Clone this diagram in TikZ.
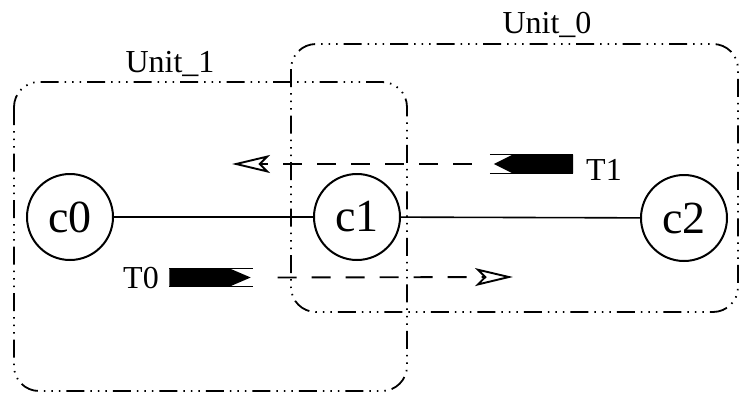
\documentclass[tikz,border=0pt]{standalone}
\usepackage{fontspec}
\setmainfont{Liberation Serif}
\usetikzlibrary{arrows.meta}
\begin{document}
\begin{tikzpicture}[x=1pt,y=-1pt,
  cnode/.style={draw,circle,line width=2pt,minimum size=86pt,inner sep=0pt,font=\fontsize{46}{46}\selectfont},
  unitbox/.style={line width=1.8pt,rounded corners=25pt,
    dash pattern=on 18pt off 6pt on 1.5pt off 6pt on 1.5pt off 6pt on 1.5pt off 6pt},
  lbl/.style={font=\fontsize{32}{32}\selectfont,inner sep=0pt,anchor=base},
  link/.style={line width=1.6pt},
  token/.style={rectangle,inner sep=0pt,minimum width=83pt,minimum height=18.5pt},
  msg/.style={line width=1.9pt,dash pattern=on 19pt off 15pt,
    -{Stealth[open,length=38pt,width=18pt,inset=9pt,line width=1.9pt]}},
]
\useasboundingbox (0,0) rectangle (740,394);
% unit boxes
\draw[unitbox] (14,82) rectangle (407,391);
\draw[unitbox] (291,44) rectangle (738,312);
\node[lbl] (u1) at (170,72) {Unit\_1};
\node[lbl] (u0) at (547,33) {Unit\_0};
% cells
\node[cnode] (c0) at (70,217) {c0};
\node[cnode] (c1) at (357,217) {c1};
\node[cnode] (c2) at (684,218) {c2};
\draw[link] (c0) -- (c1);
\draw[link] (c1) -- (c2);
% token T1
\node[token] (t1) at (531.5,164) {};
\draw[line width=1pt] (t1.north west) -- (t1.north east) (t1.south west) -- (t1.south east);
\fill ([xshift=4pt]t1.west) -- ([xshift=23pt]t1.north west) -- (t1.north east)
  -- (t1.south east) -- ([xshift=23pt]t1.south west) -- cycle;
\node[lbl] (t1l) at (604,180) {T1};
\coordinate (t1end) at (232,164);
\draw[msg] ([xshift=-18pt]t1.west) -- (t1end);
% token T0
\node[token] (t0) at (211,277.5) {};
\draw[line width=1pt] (t0.north west) -- (t0.north east) (t0.south west) -- (t0.south east);
\fill (t0.north west) -- ([xshift=-24pt]t0.north east) -- ([xshift=-2pt]t0.east)
  -- ([xshift=-24pt]t0.south east) -- (t0.south west) -- cycle;
\node[lbl] (t0l) at (141,288) {T0};
\coordinate (t0end) at (513,277);
\draw[msg] ([xshift=25pt]t0.east) -- (t0end);
\end{tikzpicture}
\end{document}
